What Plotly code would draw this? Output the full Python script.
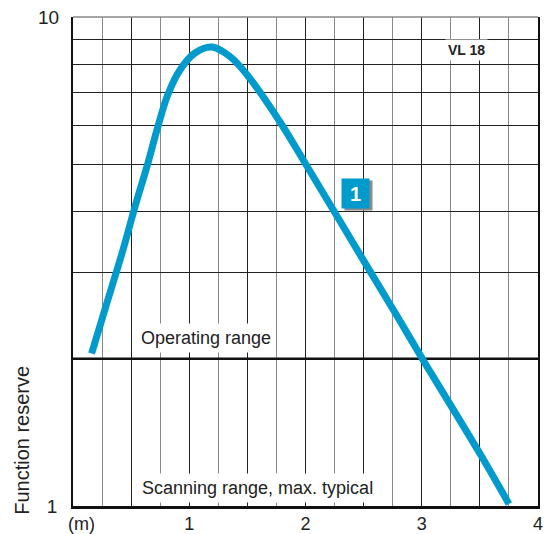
import plotly.graph_objects as go

# Curve data (distance in m, function reserve)
dist = [0.16, 0.30, 0.43, 0.533, 0.645, 0.731, 0.817, 0.92, 1.049, 1.196, 1.35, 1.497, 1.781, 2.0, 2.53, 2.79, 3.05, 3.24, 3.50, 3.75]
reserve = [2.05, 2.64, 3.34, 4.09, 5.03, 5.98, 6.95, 7.79, 8.44, 8.68, 8.30, 7.62, 6.10, 5.01, 3.09, 2.44, 1.92, 1.62, 1.28, 1.01]

operating_x = [0, 4]
operating_y = [2, 2]

x_major = [0, 0.5, 1, 1.5, 2, 2.5, 3, 3.5, 4]
x_major_text = ["", "", "1", "", "2", "", "3", "", "4"]
x_minor = [0.25, 0.75, 1.25, 1.75, 2.25, 2.75, 3.25, 3.75]
y_ticks = [1, 2, 3, 4, 5, 6, 7, 8, 9]
y_text = ["1", "", "", "", "", "", "", "", ""]

BLUE = "#009ACD"
FONT = "Liberation Sans, Arial, sans-serif"

fig = go.Figure()
fig.add_trace(go.Scatter(x=operating_x, y=operating_y, mode="lines",
                         line=dict(color="#111", width=2.5), hoverinfo="skip"))
fig.add_trace(go.Scatter(x=dist, y=reserve, mode="lines",
                         line=dict(color=BLUE, width=7, shape="spline", smoothing=1.0),
                         hoverinfo="skip"))

annotations = [
    dict(text="Operating range", x=1.144, y=0.3436, xref="x", yref="y",
         showarrow=False, bgcolor="white", font=dict(size=18, color="#222"), borderpad=4),
    dict(text="Scanning range, max. typical", x=1.583, y=0.0368, xref="x", yref="y",
         showarrow=False, bgcolor="white", font=dict(size=18, color="#222"), borderpad=4),
    dict(text="<b>VL 18</b>", x=3.381, y=0.9325, xref="x", yref="y",
         showarrow=False, bgcolor="white", font=dict(size=14, color="#222"), borderpad=2),
    dict(text=" ", x=2.434 + 0.022, y=0.640 - 0.006, xref="x", yref="y",
         showarrow=False, bgcolor="#8a8a8a", font=dict(size=19, color="#8a8a8a"),
         width=25, height=27),
    dict(text="<b>1</b>", x=2.434, y=0.640, xref="x", yref="y",
         showarrow=False, bgcolor=BLUE, font=dict(size=20, color="white"),
         width=25, height=27),
    dict(text="(m)", x=0.069, y=-0.037, xref="x", yref="paper", yanchor="middle",
         showarrow=False, font=dict(size=18, color="#222")),
    dict(text="10", x=-0.026, y=1.0, xref="paper", yref="paper", xanchor="right",
         yanchor="middle", showarrow=False, font=dict(size=19, color="#222")),
    dict(text="Function reserve", x=-0.110, y=0.135, xref="paper", yref="paper",
         xanchor="center", yanchor="middle",
         textangle=-90, showarrow=False, font=dict(size=20, color="#222")),
]

fig.update_layout(
    width=547, height=526,
    margin=dict(l=65, r=17, t=9, b=28),
    paper_bgcolor="white", plot_bgcolor="white",
    showlegend=False,
    font=dict(family=FONT, size=19, color="#222"),
    annotations=annotations,
    shapes=[dict(type="line", xref="paper", yref="paper", x0=0, x1=1, y0=1, y1=1,
                 line=dict(color="#888", width=1.5))],
)
fig.update_xaxes(range=[0, 4], tickvals=x_major, ticktext=x_major_text,
                 showgrid=True, gridcolor="#222", gridwidth=1.2,
                 minor=dict(tickvals=x_minor, showgrid=True, gridcolor="#888", gridwidth=1.2),
                 ticks="", tickfont=dict(size=18),
                 showline=True, linecolor="#111", linewidth=2.5, zeroline=False,
                 automargin=False, fixedrange=True)
fig.update_yaxes(type="log", range=[0, 1], tickvals=y_ticks, ticktext=y_text,
                 showgrid=True, gridcolor="#222", gridwidth=1.2,
                 ticks="outside", ticklen=10, tickcolor="rgba(0,0,0,0)",
                 showline=True, linecolor="#111", linewidth=1.5, mirror=True,
                 zeroline=False, automargin=False, fixedrange=True)

fig.write_html("out.html")
